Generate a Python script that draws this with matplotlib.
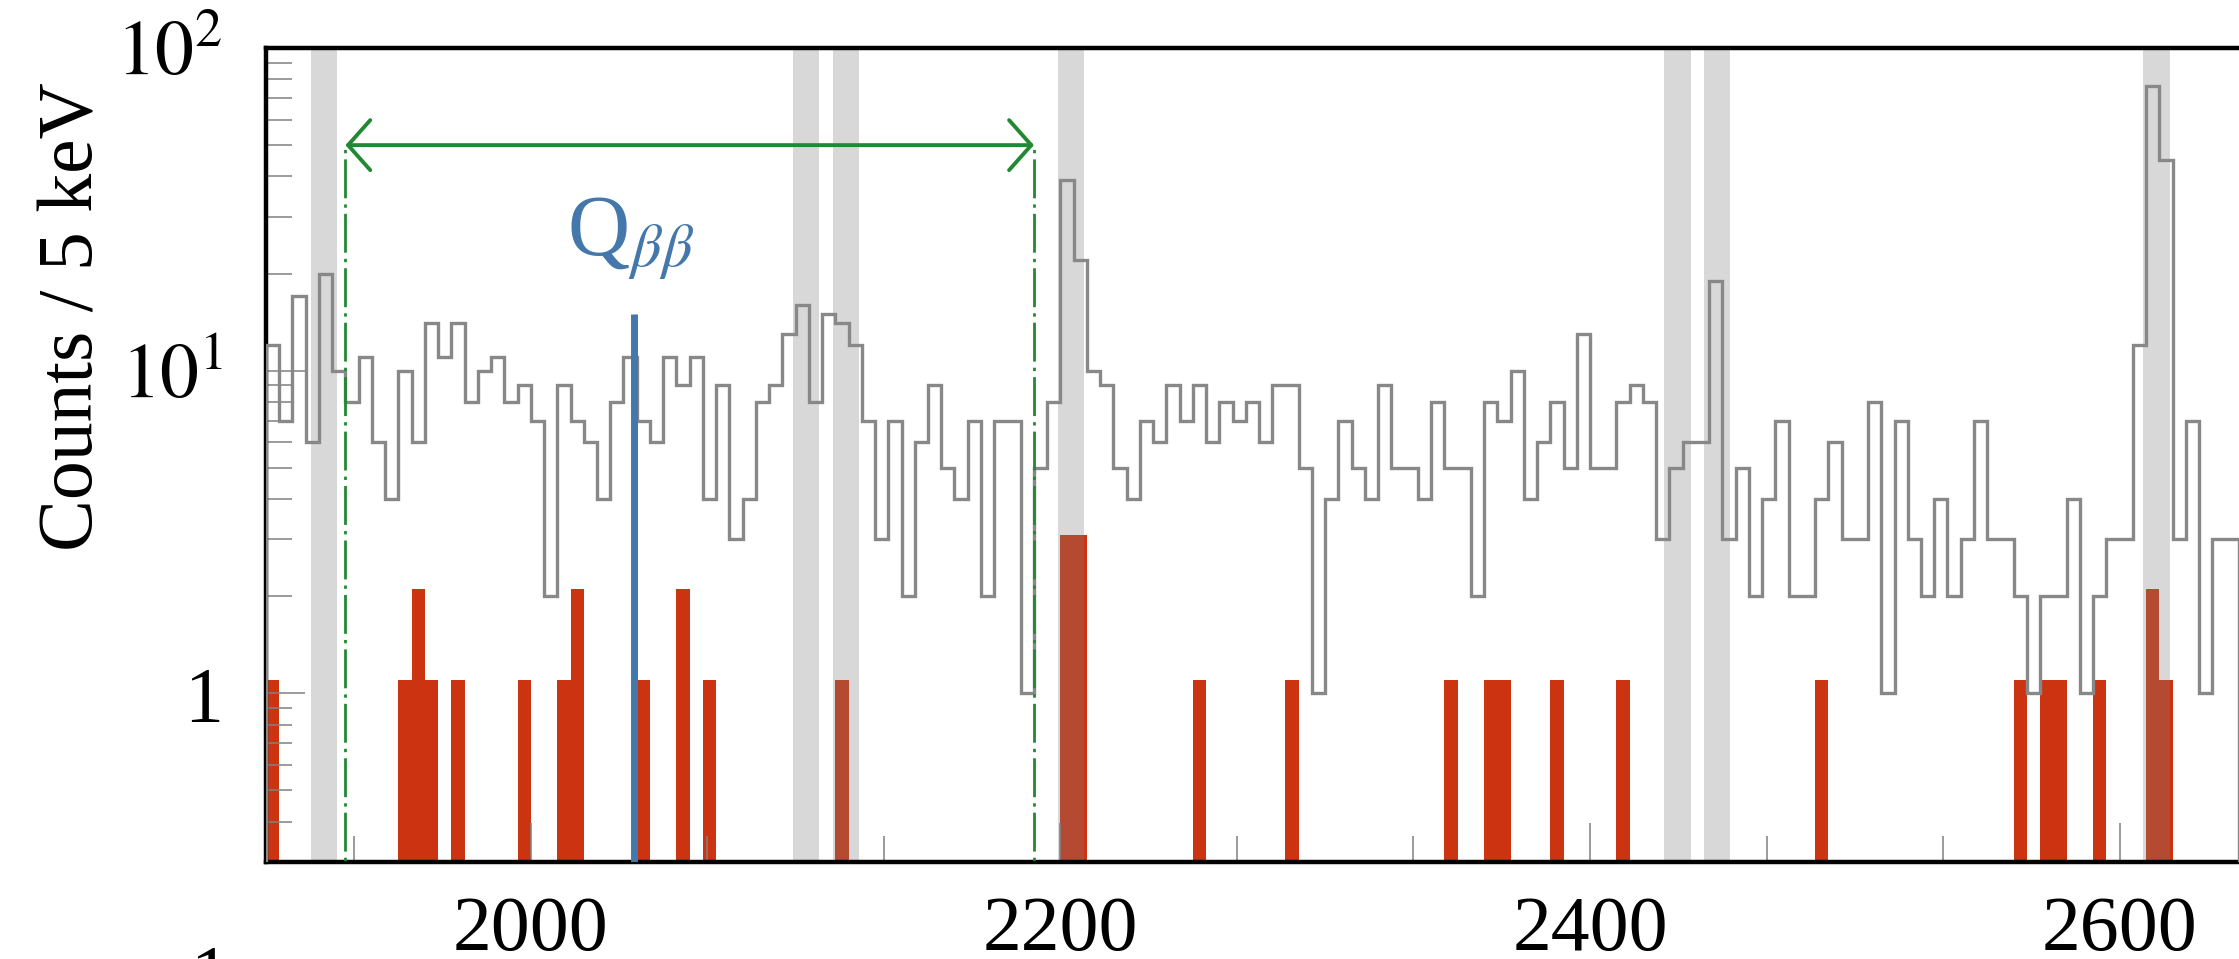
import numpy as np
import matplotlib
matplotlib.use("Agg")
from matplotlib import pyplot as plt
from matplotlib.ticker import FixedLocator, MultipleLocator, FixedFormatter, NullFormatter, LogLocator

plt.rcParams['font.family'] = ['Liberation Serif', 'DejaVu Serif']
plt.rcParams['mathtext.fontset'] = 'stix'

# histogram binning (keV)
BIN_START = 1900
BIN_WIDTH = 5

# all events, counts per 5 keV bin starting at 1900 keV
all_counts = [
    12, 7, 17, 6, 20, 10, 8, 11, 6, 4,
    10, 6, 14, 11, 14, 8, 10, 11, 8, 9,
    7, 2, 9, 7, 6, 4, 8, 11, 7, 6,
    11, 9, 11, 4, 9, 3, 4, 8, 9, 13,
    16, 8, 15, 14, 12, 7, 3, 7, 2, 6,
    9, 5, 4, 7, 2, 7, 7, 1, 5, 8,
    39, 22, 10, 9, 5, 4, 7, 6, 9, 7,
    9, 6, 8, 7, 8, 6, 9, 9, 5, 1,
    4, 7, 5, 4, 9, 5, 5, 4, 8, 5,
    5, 2, 8, 7, 10, 4, 6, 8, 5, 13,
    5, 5, 8, 9, 8, 3, 5, 6, 6, 19,
    3, 5, 2, 4, 7, 2, 2, 4, 6, 3,
    3, 8, 1, 7, 3, 2, 4, 2, 3, 7,
    3, 3, 2, 1, 2, 2, 4, 1, 2, 3,
    3, 12, 76, 45, 3, 7, 1, 3, 3,
]

# events surviving the cuts (bin low edge, counts)
event_energy = [1900, 1950, 1955, 1960, 1970, 1995, 2010, 2015, 2040, 2055,
                2065, 2115, 2200, 2205, 2250, 2285, 2345, 2360, 2365, 2385,
                2410, 2485, 2560, 2570, 2575, 2590, 2610, 2615]
event_counts = [1, 1, 2, 1, 1, 1, 1, 2, 1, 2,
                1, 1, 3, 3, 1, 1, 1, 1, 1, 1,
                1, 1, 1, 1, 1, 1, 2, 1]

# excluded gamma lines (centre, keV) and half width
gamma_lines = [1922, 2104, 2119, 2204, 2433, 2448, 2614]
GAMMA_HALF = 5

Q_BB = 2039
Q_LINE_TOP = 15
window = (1930, 2190)
WINDOW_Y = 50

x_ticks = [2000, 2200, 2400, 2600]
y_ticks = [1, 10, 100]
y_tick_labels = ['1', r'$10^{1}$', r'$10^{2}$']

RED = '#CC3311'
BLUE = '#4477AA'
GREEN = '#228833'
GREY = '#888888'

edges = BIN_START + BIN_WIDTH * np.arange(len(all_counts) + 1)

W, H = 2239, 959
fig = plt.figure(figsize=(W / 100, H / 100), dpi=100)
ax = fig.add_axes([266 / W, 1 - 862 / H, (2252 - 266) / W, (862 - 48) / H])
ax.set_yscale('log')

ax.bar(event_energy, event_counts, width=BIN_WIDTH, align='edge', bottom=0.1,
       color=RED, lw=0, zorder=1)
for c in gamma_lines:
    ax.axvspan(c - GAMMA_HALF, c + GAMMA_HALF, color='0.5', alpha=0.3, lw=0, zorder=2)
ax.stairs(all_counts, edges, baseline=0.1, color=GREY, lw=2.4, zorder=3)

ax.vlines(Q_BB, 0.1, Q_LINE_TOP, color=BLUE, lw=5, zorder=4)
ax.text(Q_BB - 1.4, 22.7, r'Q$_{\beta\beta}$', color=BLUE, fontsize=62,
        ha='center', va='baseline')

ax.vlines(window, 0.1, WINDOW_Y, color=GREEN, lw=2,
          linestyles=[(0, (14, 2.2, 1.2, 2.2))], zorder=5)
ax.annotate('', xy=(window[0], WINDOW_Y), xytext=(window[1], WINDOW_Y),
            arrowprops=dict(arrowstyle='<->, head_length=0.8, head_width=0.9',
                            color=GREEN, lw=2.8, shrinkA=0, shrinkB=0,
                            mutation_scale=20), zorder=5)

ax.set_xlim(1900, 2650)
ax.set_ylim(0.3, 100)

ax.xaxis.set_major_locator(FixedLocator(x_ticks))
ax.xaxis.set_minor_locator(MultipleLocator(200 / 3))
ax.yaxis.set_major_locator(FixedLocator(y_ticks))
ax.yaxis.set_major_formatter(FixedFormatter(y_tick_labels))
ax.yaxis.set_minor_locator(LogLocator(subs=np.arange(2, 10)))
ax.yaxis.set_minor_formatter(NullFormatter())

ax.tick_params(which='both', direction='in', color='#808080', width=1.1,
               top=False, right=False, labelsize=56)
ax.tick_params(which='major', length=28)
ax.tick_params(which='minor', length=18.5)
ax.tick_params(axis='x', pad=24)
ax.tick_params(axis='y', pad=31)
for s in ax.spines.values():
    s.set_linewidth(3.2)

fig.text(73.5 / W, 1 - 316.5 / H, 'Counts / 5 keV', rotation=90,
         ha='center', va='center', fontsize=56)
fig.text(210 / W, 1 - 945 / H, '1', ha='center', va='top', fontsize=56)

plt.savefig('out.png', dpi=100)
